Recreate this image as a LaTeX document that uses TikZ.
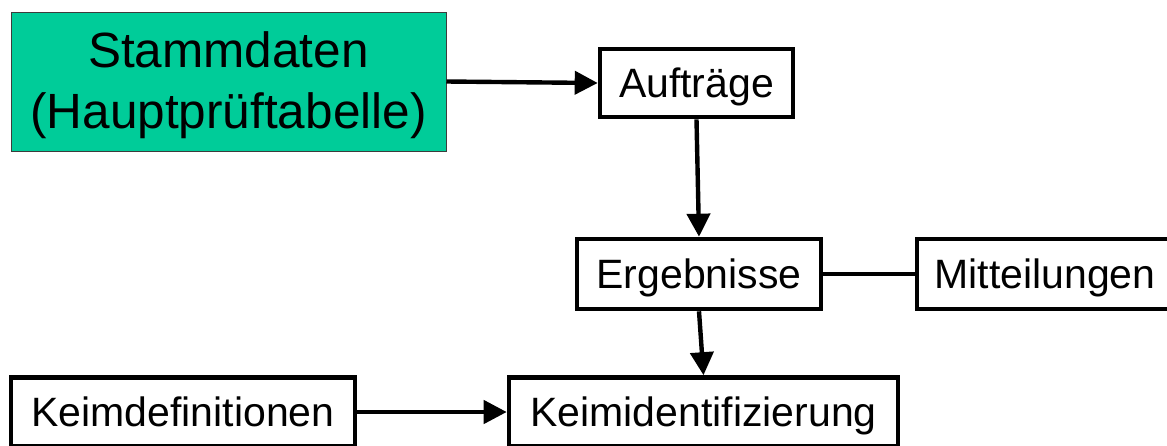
\documentclass[tikz,border=0pt]{standalone}
\usepackage{fontspec}
\setmainfont{Liberation Sans}
\usetikzlibrary{arrows.meta}
\definecolor{stammgreen}{RGB}{0,204,153}
\definecolor{stammborder}{RGB}{60,60,60}
\tikzset{
  x=1pt, y=1pt,
  box/.style={draw=black, line width=4.6pt, rectangle, inner sep=0pt,
    font=\fontsize{41}{49}\selectfont, text height=29.4pt, text depth=0pt},
  stammbox/.style={draw=stammborder, line width=1pt, fill=stammgreen, rectangle, inner sep=0pt,
    align=center, font=\fontsize{49.5}{61}\selectfont, text height=96pt, text depth=3pt},
  conn/.style={draw=black, line width=4.4pt},
  arr/.style={conn, -{Triangle[length=23pt,width=23pt]}},
}
\begin{document}
\begin{tikzpicture}
\useasboundingbox (0,0) rectangle (1167,-445);
\clip (0,0) rectangle (1167,-445);
\node[stammbox, minimum width=435pt, minimum height=139pt] (stamm) at (228.5,-81.5) {Stammdaten\\(Hauptprüftabelle)};
\node[box, minimum width=193pt, minimum height=68pt] (auf) at (696.5,-83) {Aufträge};
\node[box, minimum width=244pt, minimum height=70pt] (erg) at (699,-274) {Ergebnisse};
\node[box, minimum width=256pt, minimum height=70pt] (mitt) at (1045,-274) {Mitteilungen};
\node[box, minimum width=344pt, minimum height=69pt] (kdef) at (183,-412) {Keimdefinitionen};
\node[box, minimum width=389pt, minimum height=69pt] (kid) at (703.5,-412) {Keimidentifizierung};
\draw[arr] (stamm.east) -- (auf.west);
\draw[arr] (auf.south) -- (erg.north);
\draw[conn] (erg.east) -- (mitt.west);
\draw[arr] (erg.south) -- (kid.north);
\draw[arr] (kdef.east) -- (kid.west);
\end{tikzpicture}
\end{document}
